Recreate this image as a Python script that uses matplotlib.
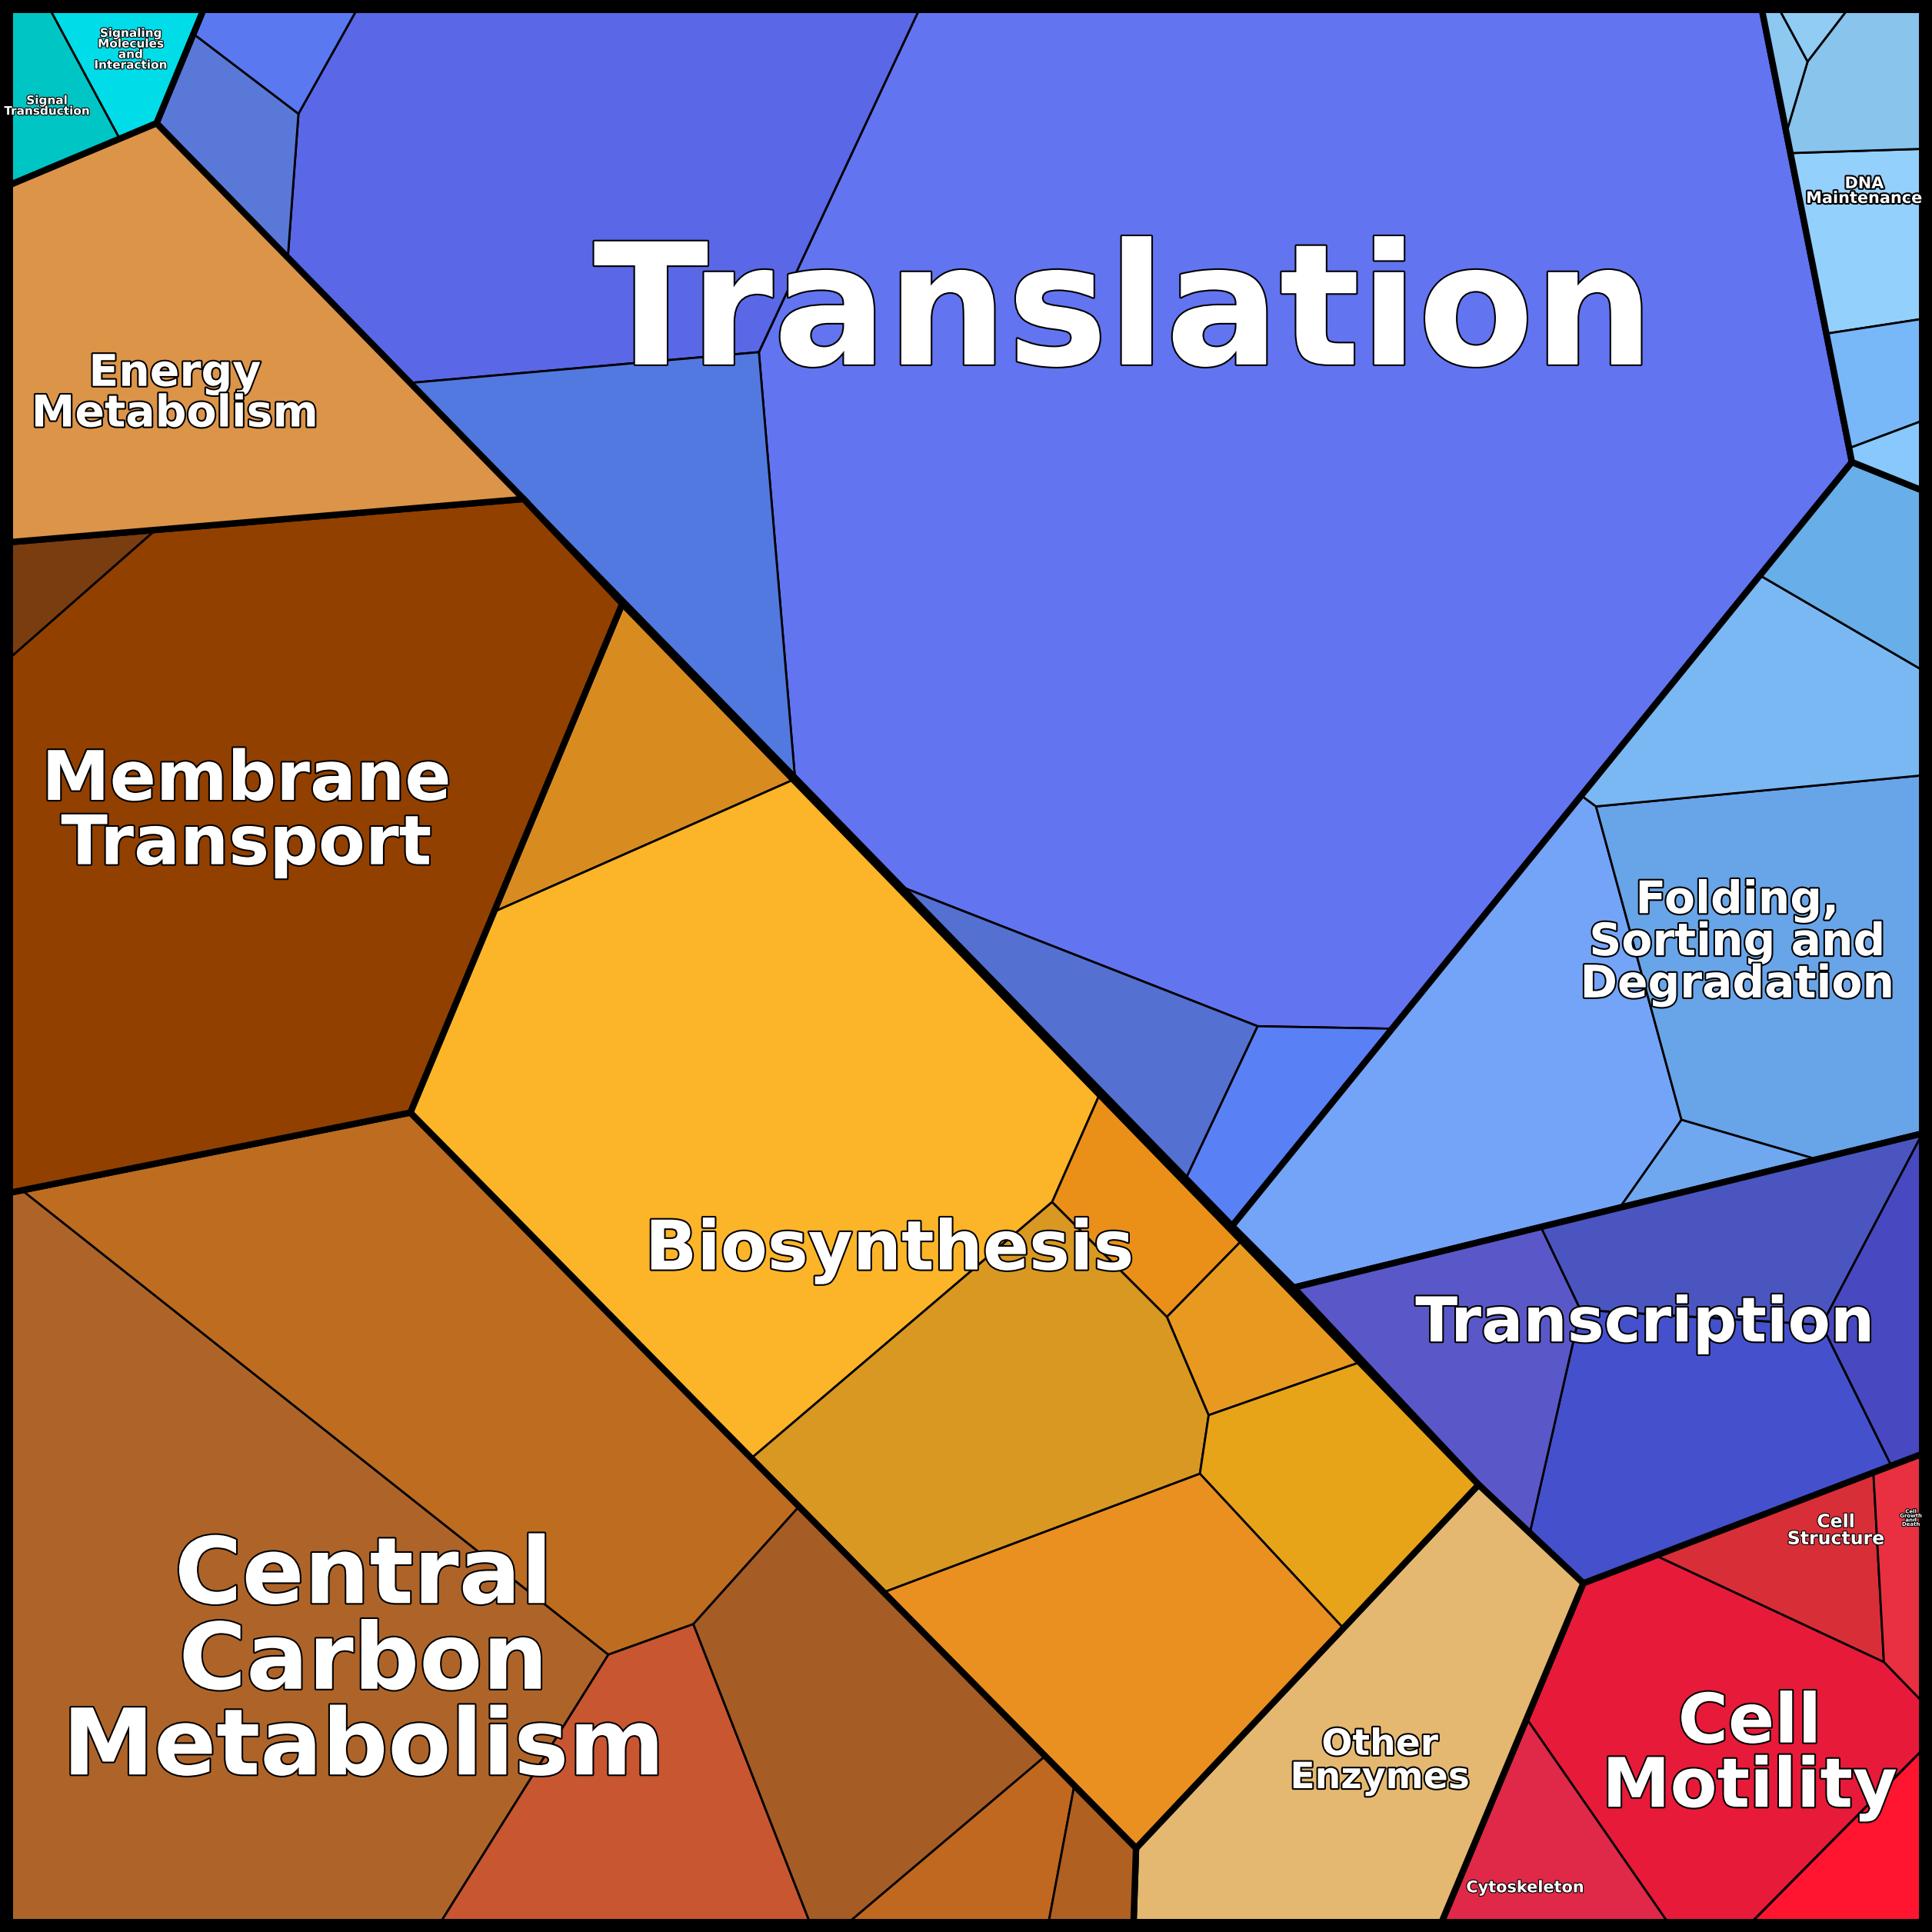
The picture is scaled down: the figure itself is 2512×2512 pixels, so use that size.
import numpy as np
import matplotlib
matplotlib.use("Agg")
import matplotlib.pyplot as plt
from matplotlib.patches import Polygon
import matplotlib.patheffects as pe

# ---------------- data ----------------
categories = ["Translation", "Folding,\nSorting and\nDegradation", "DNA\nMaintenance",
              "Transcription", "Cell\nMotility", "Other\nEnzymes", "Biosynthesis",
              "Central\nCarbon\nMetabolism", "Membrane\nTransport", "Energy\nMetabolism",
              "Signaling"]
child_colors = {
    "Translation": ["#6274f0", "#5a67e6", "#5279df", "#5a78d8", "#5a78f0", "#5470d0", "#5a80f5"],
    "Folding,\nSorting and\nDegradation": ["#74a4f8", "#68a4e8", "#7ab8f4", "#68aee8", "#70a8f0"],
    "DNA\nMaintenance": ["#94d0fc", "#88c4ec", "#78b8f8", "#88c8fc", "#8cc8f0", "#90ccf4"],
    "Transcription": ["#4550cc", "#5a58c8", "#4b55c0", "#4848c0"],
    "Cell\nMotility": ["#e81a3a", "#e02848", "#ff1530", "#d82e38", "#e83040"],
    "Other\nEnzymes": ["#e4b870"],
    "Biosynthesis": ["#d88c20", "#fcb428", "#d99822", "#ea9018", "#e89a20", "#e8a418", "#ea9020"],
    "Central\nCarbon\nMetabolism": ["#ae6428", "#be6c20", "#c85630", "#a55c25", "#c06820", "#b06020"],
    "Membrane\nTransport": ["#924000", "#7a3d10"],
    "Energy\nMetabolism": ["#dc9448"],
    "Signaling": ["#00c5c5", "#00dde8"],
}
child_labels = {
    "Cell\nMotility": ["", "Cytoskeleton", "", "Cell\nStructure", "Cell\nGrowth\nand\nDeath"],
    "Signaling": ["Signal\nTransduction", "Signaling\nMolecules\nand\nInteraction"],
}

# ---------------- layout (treemap geometry) ----------------
parent_poly = {
    "Translation": [(127, 100), (165, 8), (1430, 8), (1503, 375), (1000, 995)],
    "Folding,\nSorting and\nDegradation": [(1000, 995), (1503, 375), (1560, 398), (1560, 920), (1050, 1045)],
    "DNA\nMaintenance": [(1430, 8), (1560, 8), (1560, 398), (1503, 375)],
    "Transcription": [(1050, 1045), (1560, 920), (1560, 1190), (1285, 1285), (1200, 1205)],
    "Cell\nMotility": [(1285, 1285), (1560, 1180), (1560, 1560), (1170, 1560)],
    "Other\nEnzymes": [(922, 1500), (1200, 1205), (1285, 1285), (1170, 1560), (920, 1560)],
    "Biosynthesis": [(505, 490), (1200, 1205), (922, 1500), (333, 903)],
    "Central\nCarbon\nMetabolism": [(8, 968), (333, 903), (922, 1500), (920, 1560), (8, 1560)],
    "Membrane\nTransport": [(8, 440), (425, 405), (505, 490), (333, 903), (8, 968)],
    "Energy\nMetabolism": [(8, 150), (127, 100), (425, 405), (8, 440)],
    "Signaling": [(8, 8), (165, 8), (127, 100), (8, 150)],
}
# (x, y, weight) power-diagram sites
child_sites = {
    "Translation": [(1060, 420, 195000), (440, 130, 35000), (470, 470, 35000), (170, 110, 0),
                    (240, 18, 0), (880, 880, 45000), (1050, 960, 40000)],
    "Folding,\nSorting and\nDegradation": [(1250, 830, 0), (1470, 770, 11000), (1450, 560, 0),
                                             (1520, 440, 0), (1418, 948, -15000)],
    "DNA\nMaintenance": [(1510, 200, 0), (1505, 45, 0), (1530, 330, 0), (1545, 370, 0),
                         (1438, 25, 0), (1462, 12, 0)],
    "Transcription": [(1390, 1150, 0), (1170, 1100, -5000), (1400, 990, 0), (1552, 1070, -8000)],
    "Cell\nMotility": [(1400, 1400, 0), (1237, 1513, -12000), (1517, 1516, -15000),
                       (1470, 1250, -6000), (1560, 1245, -7500)],
    "Other\nEnzymes": [(1100, 1400, 0)],
    "Biosynthesis": [(500, 530, 0), (650, 870, 25000), (880, 1140, 0), (997, 1023, -5000),
                     (1045, 1070, 0), (1080, 1170, 0), (940, 1300, 0)],
    "Central\nCarbon\nMetabolism": [(260, 1332, 4000), (420, 1130, 0), (560, 1520, -15000),
                                    (765, 1440, 0), (820, 1505, 0), (900, 1520, 0)],
    "Membrane\nTransport": [(250, 700, 80400), (47, 469, 0)],
    "Energy\nMetabolism": [(200, 280, 0)],
    "Signaling": [(35, 75, 0), (100, 40, 0)],
}
label_pos = {
    "Translation": (912, 258, 79), "Folding,\nSorting and\nDegradation": (1410, 765, 21),
    "DNA\nMaintenance": (1513, 155, 7.5), "Transcription": (1335, 1075, 29),
    "Cell\nMotility": (1420, 1425, 32), "Other\nEnzymes": (1120, 1430, 17),
    "Biosynthesis": (722, 1015, 32), "Central\nCarbon\nMetabolism": (295, 1350, 43),
    "Membrane\nTransport": (200, 660, 32), "Energy\nMetabolism": (142, 320, 20.5),
}
child_label_pos = {
    ("Cell\nMotility", 1): (1238, 1532, 7.5), ("Cell\nMotility", 3): (1490, 1242, 8.5),
    ("Cell\nMotility", 4): (1551, 1232, 2.5),
    ("Signaling", 0): (38, 86, 5.5), ("Signaling", 1): (106, 40, 5.5),
}


def clip(poly, a, b):
    """keep points with a.x <= b"""
    out = []
    n = len(poly)
    for i in range(n):
        p, q = np.array(poly[i]), np.array(poly[(i + 1) % n])
        fp, fq = a @ p - b, a @ q - b
        if fp <= 0:
            out.append(p)
        if fp * fq < 0:
            t = fp / (fp - fq)
            out.append(p + t * (q - p))
    return out


def cells(poly, sites):
    pts = [np.array(s[:2], float) for s in sites]
    ws = [s[2] for s in sites]
    res = []
    for i, pi in enumerate(pts):
        c = [np.array(p, float) for p in poly]
        for j, pj in enumerate(pts):
            if i == j or len(c) < 3:
                continue
            a = 2 * (pj - pi)
            b = pj @ pj - pi @ pi + ws[i] - ws[j]
            c = clip(c, a, b)
        res.append(c)
    return res


fig = plt.figure(figsize=(12.56, 12.56), dpi=200)
ax = fig.add_axes([0, 0, 1, 1])
ax.set_xlim(0, 1568)
ax.set_ylim(1568, 0)
ax.axis("off")

stroke = [pe.withStroke(linewidth=1.5, foreground="black")]
for cat in categories:
    cs = cells(parent_poly[cat], child_sites[cat])
    for k, c in enumerate(cs):
        if len(c) >= 3:
            ax.add_patch(Polygon(c, closed=True, facecolor=child_colors[cat][k],
                                 edgecolor="black", linewidth=1.0))
    ax.add_patch(Polygon(parent_poly[cat], closed=True, facecolor="none",
                         edgecolor="black", linewidth=3.0))
    if cat in label_pos:
        x, y, fs = label_pos[cat]
        ax.text(x, y, cat, ha="center", va="center", fontsize=fs, color="white",
                fontweight="bold", linespacing=0.95, path_effects=stroke)
    for k in range(len(cs)):
        if (cat, k) in child_label_pos:
            x, y, fs = child_label_pos[(cat, k)]
            ax.text(x, y, child_labels[cat][k], ha="center", va="center", fontsize=fs,
                    color="white", fontweight="bold", linespacing=0.9,
                    path_effects=[pe.withStroke(linewidth=0.8, foreground="black")])

ax.add_patch(Polygon([(4, 4), (1564, 4), (1564, 1564), (4, 1564)], closed=True,
                     facecolor="none", edgecolor="black", linewidth=5))
fig.savefig("out.png", dpi=200, facecolor="white")
